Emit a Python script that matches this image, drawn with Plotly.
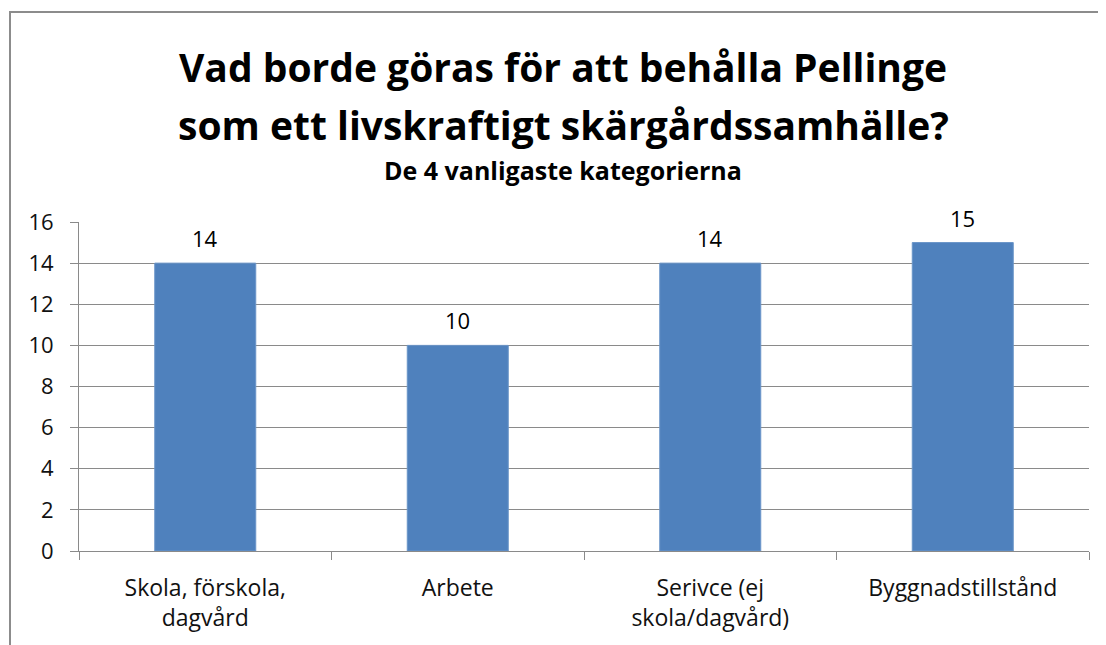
import plotly.graph_objects as go

categories = ["Skola, förskola,<br>dagvård", "Arbete", "Serivce (ej<br>skola/dagvård)", "Byggnadstillstånd"]
values = [14, 10, 14, 15]
y_ticks = [0, 2, 4, 6, 8, 10, 12, 14, 16]

FONT = "Open Sans"
grid = "#8a8a8a"
OFF = 8  # page body margin in the browser

W, H = 1106, 645
L, R, T, B = 79 - OFF, W - (1089 - OFF), 222 - OFF, H - (551 - OFF)
plot_w = W - L - R
plot_h = H - T - B

def py(screen_y):
    return (H - B - (screen_y - OFF)) / plot_h

def px(screen_x):
    return ((screen_x - OFF) - L) / plot_w

fig = go.Figure()
fig.add_trace(go.Bar(
    x=categories, y=values, width=0.4,
    marker=dict(color="#4F81BD", line=dict(color="#6a95c8", width=1)),
    cliponaxis=False,
))

annotations = [
    dict(x=c, y=v, xref="x", yref="y", text=str(v), showarrow=False,
         yanchor="middle", yshift=25, font=dict(family=FONT, size=22, color="#000000"))
    for c, v in zip(categories, values)
]
annotations += [
    dict(text="<b>Vad borde göras för att behålla Pellinge</b>", x=px(563), y=py(67), xref="paper", yref="paper",
         showarrow=False, font=dict(family=FONT, size=39, color="#000000"), yanchor="middle"),
    dict(text="<b>som ett livskraftigt skärgårdssamhälle?</b>", x=px(563), y=py(124), xref="paper", yref="paper",
         showarrow=False, font=dict(family=FONT, size=39, color="#000000"), yanchor="middle"),
    dict(text="<b>De 4 vanligaste kategorierna</b>", x=px(563), y=py(170), xref="paper", yref="paper",
         showarrow=False, font=dict(family=FONT, size=25, color="#000000"), yanchor="middle"),
]

fig.update_layout(
    width=W, height=H,
    margin=dict(l=L, r=R, t=T, b=B),
    paper_bgcolor="white", plot_bgcolor="white",
    showlegend=False,
    font=dict(family=FONT, size=22, color="#000000"),
    xaxis=dict(
        type="category", showgrid=False, showline=True, linecolor=grid, linewidth=1,
        ticks="outside", tickson="boundaries", ticklen=8, tickcolor=grid,
        tickfont=dict(family=FONT, size=23, color="#111111"),
        ticklabelstandoff=16,
        fixedrange=True,
    ),
    yaxis=dict(
        range=[0, 16], tickvals=y_ticks, showgrid=True, gridcolor=grid, gridwidth=1,
        showline=True, linecolor=grid, linewidth=1, zeroline=False,
        ticks="outside", ticklen=8, tickcolor=grid,
        tickfont=dict(family=FONT, size=22, color="#111111"),
        ticklabelstandoff=12,
        fixedrange=True,
    ),
    annotations=annotations,
)

fig.add_shape(type="rect", xref="paper", yref="paper",
              x0=px(10), x1=px(1300), y0=py(800), y1=py(12),
              line=dict(color="#8c8c8c", width=2), layer="below")

fig.write_html("out.html")
